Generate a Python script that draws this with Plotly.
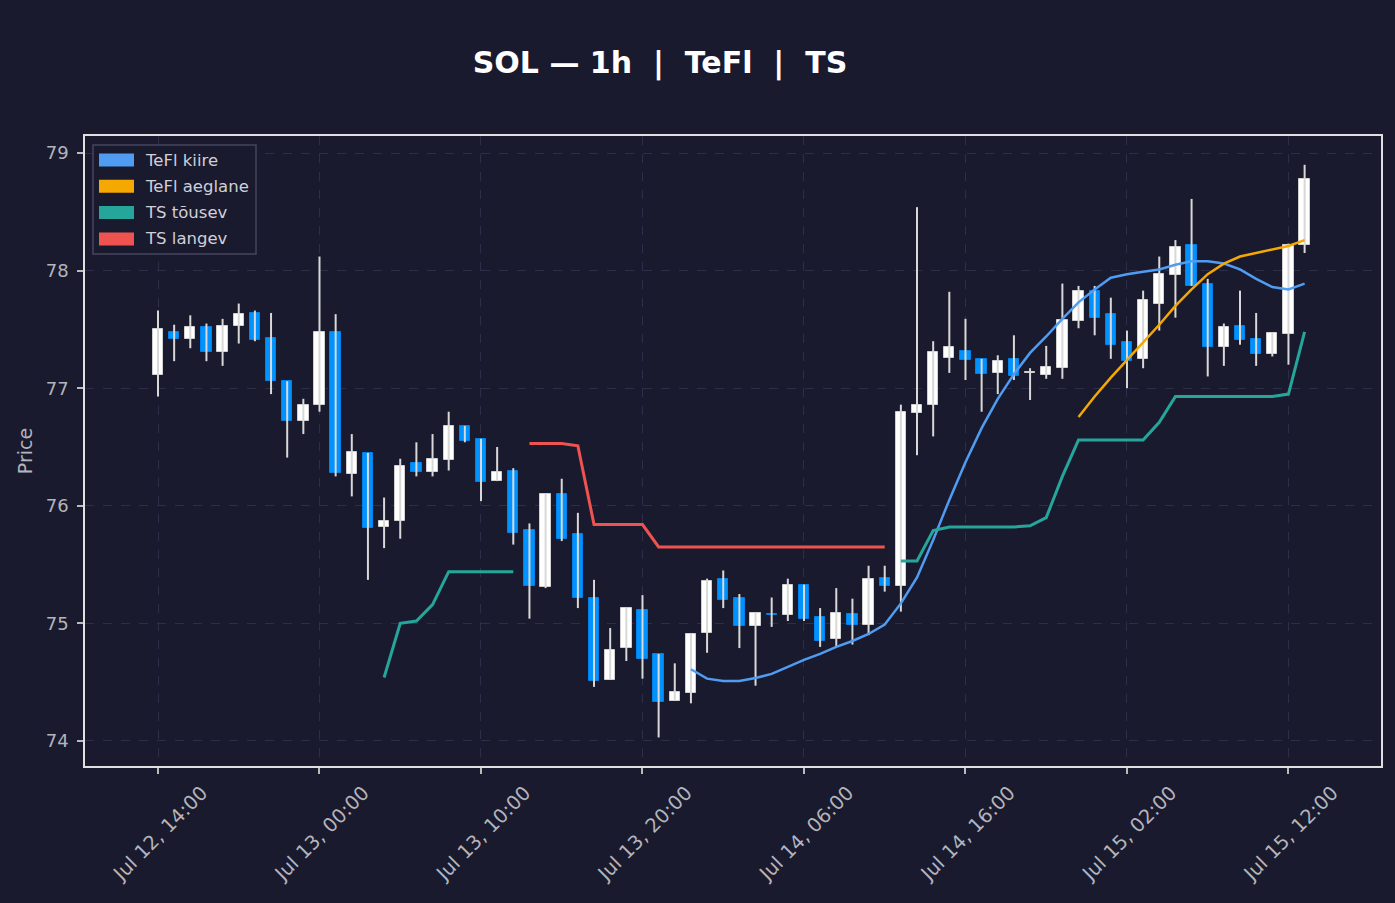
import plotly.graph_objects as go
from datetime import datetime, timedelta

# ---------------- data ----------------
start = datetime(2025, 7, 12, 14, 0)
n_bars = 72
times = [start + timedelta(hours=h) for h in range(n_bars)]

opens = [77.11, 77.48, 77.42, 77.52, 77.31, 77.53, 77.64, 77.43, 77.06, 76.72,
         76.86, 77.48, 76.27, 76.45, 75.82, 75.87, 76.36, 76.29, 76.39, 76.68,
         76.57, 76.21, 76.30, 75.79, 75.31, 76.10, 75.76, 75.22, 74.52, 74.79,
         75.11, 74.74, 74.34, 74.41, 74.92, 75.38, 75.22, 74.98, 75.08, 75.07,
         75.33, 75.05, 74.87, 75.08, 74.99, 75.39, 75.32, 76.79, 76.86, 77.26,
         77.32, 77.25, 77.13, 77.25, 77.13, 77.11, 77.17, 77.57, 77.83, 77.63,
         77.39, 77.25, 77.72, 77.96, 78.22, 77.89, 77.35, 77.53, 77.42, 77.29,
         77.46, 78.22]
highs = [77.66, 77.54, 77.62, 77.55, 77.59, 77.72, 77.66, 77.64, 77.06, 76.91,
         78.12, 77.63, 76.61, 76.45, 76.07, 76.40, 76.54, 76.61, 76.80, 76.68,
         76.57, 76.50, 76.32, 75.85, 76.10, 76.23, 75.94, 75.37, 74.96, 75.13,
         75.24, 74.74, 74.66, 74.91, 75.38, 75.45, 75.25, 75.09, 75.22, 75.38,
         75.33, 75.13, 75.30, 75.21, 75.49, 75.49, 76.86, 78.54, 77.40, 77.82,
         77.59, 77.25, 77.28, 77.45, 77.17, 77.36, 77.89, 77.87, 77.87, 77.77,
         77.49, 77.83, 78.12, 78.26, 78.61, 77.93, 77.55, 77.83, 77.64, 77.47,
         78.23, 78.90]
lows = [76.93, 77.23, 77.34, 77.23, 77.19, 77.38, 77.40, 76.95, 76.41, 76.61,
        76.80, 76.25, 76.08, 75.37, 75.64, 75.72, 76.25, 76.25, 76.30, 76.54,
        76.04, 76.21, 75.67, 75.04, 75.30, 75.70, 75.13, 74.46, 74.52, 74.68,
        74.53, 74.03, 74.34, 74.32, 74.75, 75.13, 74.79, 74.47, 74.97, 75.02,
        75.02, 74.80, 74.80, 74.82, 74.90, 75.27, 75.10, 76.43, 76.59, 77.13,
        77.07, 76.80, 76.95, 77.07, 76.90, 77.08, 77.08, 77.51, 77.45, 77.25,
        77.00, 77.17, 77.49, 77.60, 77.87, 77.10, 77.19, 77.37, 77.19, 77.27,
        77.20, 78.15]
closes = [77.50, 77.42, 77.52, 77.31, 77.53, 77.63, 77.41, 77.06, 76.72, 76.86,
          77.48, 76.28, 76.46, 75.81, 75.87, 76.34, 76.29, 76.40, 76.68, 76.55,
          76.20, 76.29, 75.77, 75.32, 76.10, 75.72, 75.22, 74.51, 74.77, 75.13,
          74.70, 74.33, 74.42, 74.91, 75.36, 75.20, 74.98, 75.09, 75.07, 75.33,
          75.04, 74.85, 75.09, 74.99, 75.38, 75.32, 76.80, 76.86, 77.31, 77.35,
          77.24, 77.12, 77.23, 77.10, 77.14, 77.18, 77.58, 77.83, 77.60, 77.37,
          77.23, 77.75, 77.97, 78.20, 77.87, 77.35, 77.52, 77.41, 77.29, 77.47,
          78.22, 78.78]

N = None
tefl_fast = [N] * 33 + [74.61, 74.53, 74.51, 74.51, 74.535, 74.57, 74.63, 74.69, 74.74,
                        74.80, 74.85, 74.91, 74.99, 75.17, 75.39, 75.71, 76.05, 76.37,
                        76.66, 76.91, 77.12, 77.30, 77.44, 77.59, 77.73, 77.84, 77.94,
                        77.97, 77.99, 78.01, 78.05, 78.08, 78.08, 78.06, 78.01, 77.93,
                        77.86, 77.84, 77.89]
tefl_slow = [N] * 57 + [76.755, 76.93, 77.09, 77.24, 77.39, 77.54, 77.70, 77.84, 77.97,
                        78.06, 78.12, 78.15, 78.18, 78.21, 78.26]
ts_up = ([N] * 14 + [74.54, 75.00, 75.02, 75.16, 75.44, 75.44, 75.44, 75.44, 75.44]
         + [N] * 23 + [75.53, 75.53, 75.79, 75.82, 75.82, 75.82, 75.82, 75.82, 75.83,
                       75.90, 76.25, 76.56, 76.56, 76.56, 76.56, 76.56, 76.71, 76.93,
                       76.93, 76.93, 76.93, 76.93, 76.93, 76.93, 76.95, 77.48])
ts_down = ([N] * 23 + [76.53, 76.53, 76.53, 76.51, 75.84, 75.84, 75.84, 75.84]
           + [75.65] * 15 + [N] * 26)

series_names = ["TeFl kiire", "TeFl aeglane", "TS tõusev", "TS langev"]
series_colors = ["#4f9cf2", "#f5a800", "#26a69a", "#ef5350"]

x_tick_vals = [start + timedelta(hours=10 * k) for k in range(8)]
y_tick_vals = [74, 75, 76, 77, 78, 79]

# ---------------- styling ----------------
BG = "#1a1a2e"
UP = "#ffffff"
DOWN = "#0092ff"
WICK = "#d8d8d8"
GRID = "#2e2e4a"
TXT = "#b4b4bc"
FONT = "DejaVu Sans"

fig = go.Figure()

# wicks
wx, wy = [], []
for t, lo, hi in zip(times, lows, highs):
    wx += [t, t, None]
    wy += [lo, hi, None]
fig.add_trace(go.Scatter(x=wx, y=wy, mode="lines", line=dict(color=WICK, width=2),
                         hoverinfo="skip", showlegend=False))

# bodies
base = [min(o, c) for o, c in zip(opens, closes)]
height = [max(abs(c - o), 0.012) for o, c in zip(opens, closes)]
cols = [UP if c >= o else DOWN for o, c in zip(opens, closes)]
lcols = ["#d0d0d0" if c >= o else "#0080e8" for o, c in zip(opens, closes)]
fig.add_trace(go.Bar(x=times, y=height, base=base, width=0.64 * 3600 * 1000,
                     marker=dict(color=cols, line=dict(color=lcols, width=1)),
                     showlegend=False, name="SOL"))

for name, col, vals, w in zip(series_names, series_colors,
                              [tefl_fast, tefl_slow, ts_up, ts_down], [2.5, 2.5, 3, 3]):
    fig.add_trace(go.Scatter(x=times, y=vals, mode="lines", name=name,
                             line=dict(color=col, width=w), connectgaps=False,
                             showlegend=False))

# manual legend (patch style)
shapes = []
annotations = []
PL, PR, PT, PB = 85, 1381, 136, 766
pw, ph = PR - PL, PB - PT


def px(x):
    return (x - PL) / pw


def py(y):
    return 1 - (y - PT) / ph


shapes.append(dict(type="rect", xref="paper", yref="paper",
                   x0=px(93), x1=px(256), y0=py(254), y1=py(145),
                   line=dict(color="#44445e", width=1.5), fillcolor=BG, layer="above"))
for k, (name, col) in enumerate(zip(series_names, series_colors)):
    yc = 160 + k * 26.3
    shapes.append(dict(type="rect", xref="paper", yref="paper",
                       x0=px(99), x1=px(134), y0=py(yc + 6.5), y1=py(yc - 6.5),
                       line=dict(width=0), fillcolor=col, layer="above"))
    annotations.append(dict(xref="paper", yref="paper", x=px(143), y=py(yc),
                            xanchor="left", yanchor="middle", text=name,
                            showarrow=False, font=dict(family=FONT, size=16.5, color="#d0d0d8")))

fig.update_layout(
    width=1395, height=903,
    paper_bgcolor=BG, plot_bgcolor=BG,
    margin=dict(l=PL, r=1395 - PR, t=PT, b=903 - PB),
    title=dict(text="SOL — 1h  |  TeFl  |  TS", x=660 / 1395, xref="container",
               xanchor="center", y=1 - 62 / 903, yref="container", yanchor="middle",
               font=dict(family=FONT, size=30, color="#ffffff", weight="bold")),
    showlegend=False,
    shapes=shapes, annotations=annotations,
    bargap=0,
    font=dict(family=FONT, color=TXT),
)

fig.update_xaxes(
    type="date",
    range=[start - timedelta(hours=4.52), start + timedelta(hours=75.73)],
    tickvals=x_tick_vals, tickformat="%b %d, %H:%M",
    tickangle=-45, tickfont=dict(family=FONT, size=19.5, color=TXT),
    ticks="outside", ticklen=6, tickcolor="#bbbbbb", tickwidth=1.5,
    ticklabelshift=44,
    showgrid=True, gridcolor=GRID, griddash="dash", gridwidth=1,
    showline=True, linecolor="#e0e0e0", linewidth=1.5, mirror=True,
    zeroline=False, rangeslider=dict(visible=False),
)
fig.update_yaxes(
    range=[73.787, 79.145], tickvals=y_tick_vals,
    tickfont=dict(family=FONT, size=18, color=TXT),
    ticks="outside", ticklen=6, tickcolor="#bbbbbb", tickwidth=1.5,
    ticklabelstandoff=5,
    title=dict(text="Price", font=dict(family=FONT, size=19, color=TXT), standoff=8),
    showgrid=True, gridcolor=GRID, griddash="dash", gridwidth=1,
    showline=True, linecolor="#e0e0e0", linewidth=1.5, mirror=True,
    zeroline=False,
)

fig.write_html("out.html")
